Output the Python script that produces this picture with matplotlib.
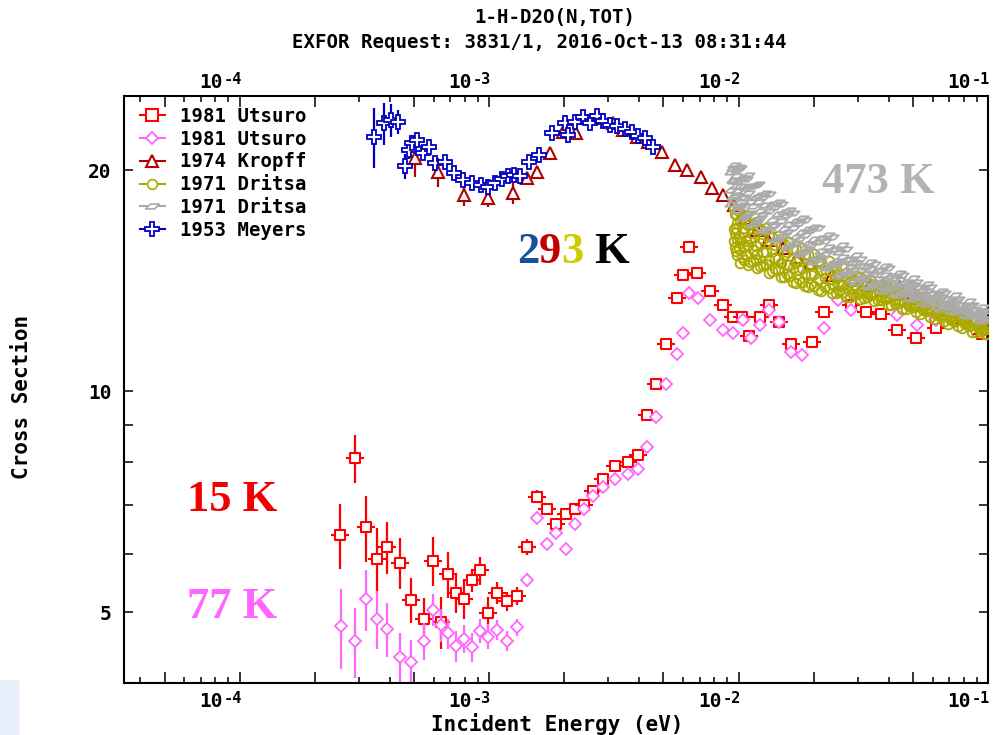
import numpy as np
import matplotlib.pyplot as plt
import matplotlib.transforms as mtransforms
from matplotlib.path import Path
from matplotlib.lines import Line2D
from matplotlib.ticker import FixedLocator, FuncFormatter, NullLocator, NullFormatter

plt.rcParams['font.family'] = 'DejaVu Sans Mono'
plt.rcParams['font.weight'] = 'bold'

# ---------------------------------------------------------------
# donnees : energie (eV), section efficace (b), incertitude
# ---------------------------------------------------------------
# 1981 Utsuro, 15 K
utsuro15_E = [2.53e-4, 2.90e-4, 3.21e-4, 3.57e-4, 3.89e-4, 4.40e-4, 4.87e-4, 5.49e-4,
              5.98e-4, 6.44e-4, 6.83e-4, 7.35e-4, 7.92e-4, 8.52e-4, 9.20e-4, 9.88e-4,
              1.08e-3, 1.18e-3, 1.29e-3, 1.42e-3, 1.55e-3, 1.70e-3, 1.86e-3, 2.03e-3,
              2.21e-3, 2.40e-3, 2.60e-3, 2.85e-3, 3.20e-3, 3.60e-3, 3.97e-3, 4.29e-3,
              4.67e-3, 5.11e-3, 5.65e-3, 5.98e-3, 6.35e-3, 6.84e-3, 7.69e-3, 8.69e-3,
              9.48e-3, 1.036e-2, 1.105e-2, 1.22e-2, 1.33e-2, 1.45e-2, 1.62e-2, 1.97e-2,
              2.20e-2, 2.83e-2, 3.24e-2, 3.73e-2, 4.33e-2, 5.15e-2, 6.19e-2, 9.43e-2]
utsuro15_sig = [6.37, 8.10, 6.52, 5.90, 6.14, 5.84, 5.20, 4.90,
                5.87, 4.85, 5.63, 5.31, 5.21, 5.53, 5.70, 4.99,
                5.31, 5.17, 5.26, 6.14, 7.18, 6.90, 6.60, 6.80,
                6.90, 7.00, 7.30, 7.60, 7.90, 8.00, 8.18, 9.27,
                10.21, 11.60, 13.40, 14.40, 15.70, 14.50, 13.70, 13.10,
                12.60, 12.60, 11.90, 12.60, 13.10, 12.40, 11.60, 11.65,
                12.80, 13.10, 12.80, 12.75, 12.10, 11.80, 12.20, 11.95]
utsuro15_err = [0.65, 0.60, 0.67, 0.60, 0.50, 0.46, 0.37, 0.32,
                0.45, 0.40, 0.40, 0.33, 0.32, 0.20, 0.25, 0.25,
                0.18, 0.15, 0.15, 0.15, 0.15, 0.12, 0.12, 0.12,
                0.12, 0.12, 0.12, 0.12, 0.12, 0.12, 0.12, 0.12,
                0.12, 0.12, 0.12, 0.12, 0.12, 0.12, 0.12, 0.12,
                0.12, 0.12, 0.12, 0.12, 0.12, 0.12, 0.12, 0.12,
                0.12, 0.12, 0.12, 0.12, 0.12, 0.12, 0.12, 0.12]

# 1981 Utsuro, 77 K
utsuro77_E = [2.54e-4, 2.90e-4, 3.21e-4, 3.57e-4, 3.89e-4, 4.40e-4, 4.87e-4, 5.49e-4,
              5.98e-4, 6.44e-4, 6.83e-4, 7.35e-4, 7.92e-4, 8.52e-4, 9.20e-4, 9.94e-4,
              1.08e-3, 1.18e-3, 1.29e-3, 1.42e-3, 1.55e-3, 1.70e-3, 1.86e-3, 2.03e-3,
              2.21e-3, 2.40e-3, 2.60e-3, 2.85e-3, 3.20e-3, 3.60e-3, 3.97e-3, 4.29e-3,
              4.67e-3, 5.12e-3, 5.65e-3, 5.98e-3, 6.35e-3, 6.90e-3, 7.69e-3, 8.65e-3,
              9.50e-3, 1.04e-2, 1.12e-2, 1.22e-2, 1.33e-2, 1.45e-2, 1.62e-2, 1.80e-2,
              2.20e-2, 2.50e-2, 2.83e-2, 4.33e-2, 5.20e-2, 6.20e-2, 7.30e-2, 9.40e-2]
utsuro77_sig = [4.78, 4.57, 5.21, 4.90, 4.74, 4.34, 4.28, 4.57,
                5.04, 4.80, 4.68, 4.49, 4.60, 4.48, 4.72, 4.63,
                4.73, 4.57, 4.77, 5.53, 6.71, 6.20, 6.40, 6.10,
                6.60, 6.90, 7.20, 7.40, 7.60, 7.70, 7.83, 8.38,
                9.22, 10.21, 11.22, 11.98, 13.59, 13.37, 12.50, 12.11,
                11.98, 12.50, 11.80, 12.30, 12.90, 12.40, 11.30, 11.20,
                12.20, 13.30, 12.90, 12.70, 12.30, 12.50, 12.40, 12.40]
utsuro77_err = [0.60, 0.50, 0.50, 0.44, 0.40, 0.35, 0.30, 0.27,
                0.25, 0.25, 0.22, 0.22, 0.20, 0.20, 0.18, 0.18,
                0.15, 0.15, 0.13, 0.12, 0.12, 0.10, 0.10, 0.10,
                0.10, 0.10, 0.10, 0.10, 0.10, 0.10, 0.10, 0.10,
                0.10, 0.10, 0.10, 0.10, 0.10, 0.10, 0.10, 0.10,
                0.10, 0.10, 0.10, 0.10, 0.10, 0.10, 0.10, 0.10,
                0.10, 0.10, 0.10, 0.10, 0.10, 0.10, 0.10, 0.10]

# 1974 Kropff
kropff_E = [5.05e-4, 6.23e-4, 7.96e-4, 9.88e-4, 1.245e-3, 1.416e-3, 1.562e-3, 1.756e-3,
            1.985e-3, 2.226e-3, 2.702e-3, 3.15e-3, 3.454e-3, 3.908e-3, 4.351e-3, 4.951e-3,
            5.566e-3, 6.20e-3, 7.055e-3, 7.811e-3, 8.693e-3, 9.6e-3, 1.062e-2, 1.186e-2,
            1.313e-2, 1.508e-2, 1.716e-2, 1.935e-2, 2.37e-2, 2.877e-2, 3.366e-2, 3.795e-2,
            4.44e-2, 5.005e-2, 6.019e-2, 6.85e-2, 7.94e-2, 9.29e-2]
kropff_sig = [20.75, 19.89, 18.49, 18.30, 18.59, 19.49, 19.89, 21.12,
              22.55, 22.44, 23.52, 23.15, 22.67, 22.20, 21.86, 21.18,
              20.32, 20.00, 19.58, 18.89, 18.49, 17.95, 17.20, 16.57,
              16.06, 15.66, 15.22, 14.94, 14.39, 14.17, 13.94, 13.94,
              13.86, 13.59, 13.18, 12.89, 12.60, 12.38]
kropff_err = [1.2, 0.9, 0.6, 0.5, 0.6, 0.2, 0.2, 0.15,
              0.15, 0.15, 0.15, 0.15, 0.15, 0.15, 0.15, 0.15,
              0.15, 0.15, 0.15, 0.15, 0.15, 0.15, 0.15, 0.15,
              0.15, 0.15, 0.15, 0.15, 0.15, 0.15, 0.15, 0.15,
              0.15, 0.15, 0.15, 0.15, 0.15, 0.15]

# 1971 Dritsa, 293 K : deux grilles d'energie, trois releves chacune
dritsa293_E = [0.0096, 0.0098, 0.0100, 0.0103, 0.0107, 0.0111, 0.0117, 0.0122,
               0.0129, 0.0136, 0.0144, 0.0152, 0.0160, 0.0170, 0.0180, 0.0190,
               0.0201, 0.0215, 0.0230, 0.0245, 0.0262, 0.0279, 0.0298, 0.0317,
               0.0338, 0.0361, 0.0385, 0.0410, 0.0438, 0.0467, 0.0499, 0.0532,
               0.0568, 0.0605, 0.0646, 0.0689, 0.0735, 0.0784, 0.0836, 0.0892,
               0.0951, 0.0990]
dritsa293_a = [17.7, 17.4, 17.6, 17.2, 17.35, 16.9, 17.0, 16.6,
               16.7, 16.2, 16.25, 15.85, 15.95, 15.6, 15.65, 15.3,
               15.35, 15.0, 15.05, 14.65, 14.7, 14.4, 14.35, 14.1,
               14.15, 13.9, 13.9, 13.7, 13.7, 13.5, 13.5, 13.3,
               13.3, 13.1, 13.1, 12.9, 12.9, 12.7, 12.7, 12.5,
               12.5, 12.4]
dritsa293_b = [16.6, 16.7, 16.2, 16.45, 16.0, 16.15, 15.75, 15.9,
               15.45, 15.6, 15.15, 15.3, 14.85, 15.0, 14.7, 14.8,
               14.45, 14.6, 14.2, 14.3, 13.95, 14.1, 13.8, 13.9,
               13.6, 13.75, 13.45, 13.55, 13.3, 13.4, 13.1, 13.2,
               12.9, 13.0, 12.7, 12.8, 12.5, 12.6, 12.3, 12.4,
               12.1, 12.15]
dritsa293_c = [16.0, 15.5, 15.6, 15.25, 15.35, 15.0, 15.1, 14.8,
               14.9, 14.55, 14.6, 14.3, 14.35, 14.05, 14.1, 13.85,
               13.9, 13.7, 13.8, 13.6, 13.65, 13.45, 13.55, 13.4,
               13.5, 13.3, 13.35, 13.1, 13.2, 12.95, 13.0, 12.75,
               12.85, 12.55, 12.6, 12.35, 12.45, 12.2, 12.25, 12.05,
               12.1, 11.95]
dritsa293_E2 = [0.0097, 0.0099, 0.01015, 0.0105, 0.0109, 0.0114, 0.0119, 0.0125,
                0.0132, 0.0140, 0.0148, 0.0156, 0.0165, 0.0175, 0.0185, 0.0195,
                0.0208, 0.0222, 0.0237, 0.0253, 0.0270, 0.0288, 0.0307, 0.0327,
                0.0349, 0.0373, 0.0397, 0.0424, 0.0452, 0.0483, 0.0515, 0.0549,
                0.0586, 0.0625, 0.0667, 0.0711, 0.0759, 0.0809, 0.0863, 0.0921,
                0.0970]
dritsa293_d = [17.4, 16.95, 17.1, 16.7, 16.85, 16.4, 16.6, 16.1,
               16.25, 15.8, 15.9, 15.45, 15.6, 15.2, 15.35, 14.9,
               15.05, 14.65, 14.8, 14.4, 14.5, 14.15, 14.3, 13.95,
               14.0, 13.75, 13.85, 13.5, 13.6, 13.3, 13.4, 13.1,
               13.2, 12.9, 13.0, 12.7, 12.8, 12.5, 12.6, 12.3,
               12.35]
dritsa293_e = [15.7, 15.3, 14.95, 15.1, 14.85, 15.05, 14.7, 14.85,
               14.5, 14.65, 14.3, 14.45, 14.1, 14.2, 13.9, 14.0,
               13.75, 13.85, 13.6, 13.7, 13.45, 13.55, 13.35, 13.45,
               13.25, 13.3, 13.1, 13.2, 12.95, 13.05, 12.8, 12.9,
               12.6, 12.7, 12.45, 12.5, 12.25, 12.35, 12.05, 12.15,
               11.95]
dritsa293_f = [16.4, 16.1, 15.9, 15.7, 15.8, 15.55, 15.35, 15.45,
               15.1, 15.2, 14.95, 14.85, 14.7, 14.6, 14.45, 14.4,
               14.2, 14.25, 14.0, 13.95, 13.85, 13.8, 13.65, 13.6,
               13.55, 13.45, 13.4, 13.3, 13.25, 13.15, 13.05, 13.0,
               12.9, 12.8, 12.75, 12.6, 12.6, 12.4, 12.45, 12.2,
               12.25]

# 1971 Dritsa, 473 K
dritsa473_E = [0.00933, 0.0096, 0.00986, 0.0101, 0.0105, 0.0109, 0.0114, 0.0120,
               0.0125, 0.0132, 0.0140, 0.0148, 0.0156, 0.0165, 0.0175, 0.0185,
               0.0195, 0.0208, 0.0222, 0.0237, 0.0253, 0.0270, 0.0288, 0.0307,
               0.0327, 0.0349, 0.0373, 0.0397, 0.0424, 0.0452, 0.0483, 0.0515,
               0.0549, 0.0586, 0.0625, 0.0667, 0.0711, 0.0759, 0.0809, 0.0863,
               0.0921, 0.0982]
dritsa473_a = [19.85, 20.3, 20.0, 20.1, 19.5, 19.7, 19.0, 19.15,
               18.4, 18.55, 17.8, 18.0, 17.35, 17.5, 16.95, 17.1,
               16.55, 16.7, 16.0, 16.2, 15.45, 15.6, 15.0, 15.15,
               14.75, 14.9, 14.6, 14.7, 14.25, 14.4, 14.0, 14.1,
               13.75, 13.85, 13.5, 13.6, 13.25, 13.35, 13.0, 13.1,
               12.8, 12.85]
dritsa473_b = [18.8, 19.3, 18.7, 19.0, 18.3, 18.6, 17.85, 18.1,
               17.4, 17.6, 16.85, 17.05, 16.45, 16.7, 16.1, 16.3,
               15.8, 15.95, 15.35, 15.55, 14.95, 15.1, 14.6, 14.8,
               14.3, 14.45, 14.1, 14.25, 13.85, 14.0, 13.65, 13.8,
               13.45, 13.55, 13.2, 13.35, 13.0, 13.1, 12.85, 12.9,
               12.65, 12.7]
dritsa473_c = [18.0, 18.2, 17.6, 17.8, 17.2, 17.4, 16.9, 17.1,
               16.55, 16.5, 16.1, 16.25, 15.7, 15.85, 15.4, 15.5,
               15.1, 15.25, 14.8, 14.9, 14.45, 14.55, 14.15, 14.25,
               13.9, 14.0, 13.75, 13.85, 13.55, 13.65, 13.4, 13.5,
               13.2, 13.3, 13.0, 13.1, 12.85, 12.95, 12.7, 12.75,
               12.5, 12.55]
dritsa473_E2 = [0.00946, 0.00973, 0.00998, 0.0103, 0.0107, 0.0111, 0.0117, 0.0122,
                0.0128, 0.0136, 0.0144, 0.0152, 0.0160, 0.0170, 0.0180, 0.0190,
                0.0201, 0.0215, 0.0229, 0.0245, 0.0261, 0.0279, 0.0297, 0.0317,
                0.0338, 0.0361, 0.0385, 0.0410, 0.0438, 0.0467, 0.0499, 0.0532,
                0.0567, 0.0605, 0.0646, 0.0689, 0.0735, 0.0784, 0.0836, 0.0892,
                0.0950]
dritsa473_d = [20.1, 19.6, 20.2, 19.5, 19.45, 19.0, 19.1, 18.5,
               18.6, 18.0, 18.1, 17.55, 17.65, 17.05, 17.2, 16.6,
               16.75, 16.15, 16.3, 15.6, 15.8, 15.15, 15.3, 14.8,
               15.0, 14.55, 14.8, 14.35, 14.5, 14.1, 14.25, 13.85,
               14.0, 13.6, 13.7, 13.35, 13.5, 13.1, 13.25, 12.9,
               13.0]
dritsa473_e = [18.4, 18.5, 17.8, 17.9, 17.3, 17.5, 16.95, 17.2,
               16.6, 16.8, 16.05, 16.3, 15.7, 15.9, 15.35, 15.55,
               15.0, 15.15, 14.7, 14.85, 14.35, 14.5, 14.05, 14.2,
               13.85, 13.95, 13.7, 13.8, 13.5, 13.6, 13.35, 13.45,
               13.15, 13.25, 12.95, 13.05, 12.8, 12.9, 12.65, 12.7,
               12.45]
dritsa473_f = [19.4, 19.0, 19.3, 18.4, 18.9, 18.1, 18.4, 17.6,
               17.9, 17.1, 17.4, 16.6, 16.9, 16.2, 16.45, 15.85,
               16.1, 15.5, 15.7, 15.05, 15.25, 14.75, 14.95, 14.45,
               14.65, 14.2, 14.4, 14.0, 14.15, 13.75, 13.95, 13.55,
               13.7, 13.35, 13.45, 13.15, 13.25, 12.95, 13.05, 12.75,
               12.8]

# 1953 Meyers
meyers_E = [3.47e-4, 3.80e-4, 4.05e-4, 4.33e-4, 4.61e-4, 4.78e-4, 4.90e-4, 5.16e-4,
            5.42e-4, 5.76e-4, 6.08e-4, 6.66e-4, 7.24e-4, 7.85e-4, 8.52e-4, 9.26e-4,
            9.94e-4, 1.057e-3, 1.124e-3, 1.188e-3, 1.26e-3, 1.331e-3, 1.45e-3, 1.591e-3,
            1.784e-3, 2.016e-3, 2.079e-3, 2.212e-3, 2.388e-3, 2.54e-3, 2.702e-3, 2.856e-3,
            3.055e-3, 3.268e-3, 3.509e-3, 3.732e-3, 3.966e-3, 4.221e-3, 4.532e-3]
meyers_sig = [22.20, 23.15, 23.40, 23.27, 20.25, 21.29, 21.75, 21.97,
              21.08, 21.48, 20.46, 20.53, 19.83, 19.38, 19.18, 19.08,
              18.98, 19.18, 19.43, 19.63, 19.69, 19.63, 20.53, 20.96,
              22.44, 23.15, 22.32, 23.27, 23.60, 23.15, 23.69, 23.35,
              23.03, 22.96, 22.72, 22.55, 22.25, 22.09, 21.52]
meyers_err = [2.1, 1.5, 1.2, 0.9, 0.8, 0.6, 0.6, 0.5,
              0.3, 0.3, 0.3, 0.3, 0.2, 0.2, 0.2, 0.2,
              0.2, 0.2, 0.2, 0.2, 0.2, 0.2, 0.2, 0.2,
              0.2, 0.2, 0.2, 0.2, 0.2, 0.2, 0.2, 0.2,
              0.2, 0.2, 0.2, 0.2, 0.2, 0.2, 0.2]

labels = ['1981 Utsuro', '1981 Utsuro', '1974 Kropff', '1971 Dritsa', '1971 Dritsa', '1953 Meyers']
decades = [1e-4, 1e-3, 1e-2, 1e-1]
decade_exp = ['-4', '-3', '-2', '-1']

# couleurs
C_RED = '#ff0000'
C_VIO = '#ff66ff'
C_KRO = '#b00000'
C_OLI = '#aaaa00'
C_GRY = '#aaaaaa'
C_BLU = '#0000c0'

# marqueurs perso : carre avec petits traits horizontaux, parallelogramme
sq_stub = Path([(-0.55, -0.55), (0.55, -0.55), (0.55, 0.55), (-0.55, 0.55), (-0.55, -0.55),
                (-1, 0), (-0.55, 0), (0.55, 0), (1, 0)],
               [Path.MOVETO, Path.LINETO, Path.LINETO, Path.LINETO, Path.CLOSEPOLY,
                Path.MOVETO, Path.LINETO, Path.MOVETO, Path.LINETO])
slant = Path([(-1, -0.35), (0.3, -0.35), (1, 0.35), (-0.3, 0.35), (-1, -0.35)],
             [Path.MOVETO, Path.LINETO, Path.LINETO, Path.LINETO, Path.CLOSEPOLY])

W, H = 994, 735
fig = plt.figure(figsize=(W / 100, H / 100), dpi=100)
ax = fig.add_axes([124 / W, 1 - 683.3 / H, (988 - 124) / W, (683.3 - 95.7) / H])
ax.set_xscale('log')
ax.set_yscale('log')

ebkw = dict(ls='none', mfc='white', elinewidth=1.6, capsize=0)
ax.errorbar(utsuro15_E, utsuro15_sig, yerr=utsuro15_err, marker=sq_stub, ms=13.5, mew=1.5,
            color=C_RED, mec=C_RED, zorder=2, **ebkw)
ax.errorbar(utsuro77_E, utsuro77_sig, yerr=utsuro77_err, marker='D', ms=6.5, mew=1.3,
            color=C_VIO, mec=C_VIO, zorder=2.2, **ebkw)
ax.errorbar(kropff_E, kropff_sig, yerr=kropff_err, marker='^', ms=8, mew=1.5,
            color=C_KRO, mec=C_KRO, zorder=2.4, **ebkw)

E293 = np.concatenate([dritsa293_E] * 3 + [dritsa293_E2] * 3)
S293 = np.concatenate([dritsa293_a, dritsa293_b, dritsa293_c,
                       dritsa293_d, dritsa293_e, dritsa293_f])
ax.plot(E293, S293, ls='none', marker='o', ms=7, mew=1.3, mfc='none', mec=C_OLI, zorder=3)
E473 = np.concatenate([dritsa473_E] * 3 + [dritsa473_E2] * 3)
S473 = np.concatenate([dritsa473_a, dritsa473_b, dritsa473_c,
                       dritsa473_d, dritsa473_e, dritsa473_f])
ax.plot(E473, S473, ls='none', marker=slant, ms=9, mew=1.3, mfc='none', mec=C_GRY, zorder=3.2)

ax.errorbar(meyers_E, meyers_sig, yerr=meyers_err, marker='P', ms=10, mew=1.3,
            color=C_BLU, mec=C_BLU, zorder=3.5, **ebkw)

ax.set_xlim(3.44e-5, 0.1)
ax.set_ylim(4.0, 25.25)

# graduations : longues a 1, 2, 5 ; courtes ailleurs
xmaj = [m * 10.0 ** k for k in range(-5, 0) for m in (1, 2, 5)]
xmin = [m * 10.0 ** k for k in range(-5, 0) for m in (3, 4, 6, 7, 8, 9)]
ax.xaxis.set_major_locator(FixedLocator(xmaj))
ax.xaxis.set_minor_locator(FixedLocator(xmin))
ax.xaxis.set_major_formatter(NullFormatter())
ax.xaxis.set_minor_formatter(NullFormatter())
ax.yaxis.set_major_locator(FixedLocator([5, 6, 7, 8, 9, 10, 20]))
ax.yaxis.set_minor_locator(NullLocator())
ax.yaxis.set_major_formatter(FuncFormatter(lambda v, p: '%d' % v if v in (5, 10, 20) else ''))

ax.tick_params(axis='x', which='major', direction='in', length=8, width=1.1, top=True, bottom=True)
ax.tick_params(axis='x', which='minor', direction='in', length=4.2, width=1.1, top=True, bottom=True)
ax.tick_params(axis='y', which='major', direction='in', length=6.5, width=1.1,
               left=True, right=True, labelsize=14, pad=9)
for s in ax.spines.values():
    s.set_linewidth(1.5)

# etiquettes des decades (10 puis exposant), en haut et en bas
blend = mtransforms.blended_transform_factory(ax.transData, fig.transFigure)
tr_base = blend + mtransforms.ScaledTranslation(-17 / 100, 0, fig.dpi_scale_trans)
tr_sup = blend + mtransforms.ScaledTranslation(2 / 100, 0, fig.dpi_scale_trans)
for v, s in zip(decades, decade_exp):
    for yb, ys in ((707, 703), (88, 84)):
        ax.text(v, 1 - yb / H, '10', transform=tr_base, ha='right', va='baseline',
                fontsize=14, clip_on=False)
        ax.text(v, 1 - ys / H, s, transform=tr_sup, ha='right', va='baseline',
                fontsize=11, clip_on=False)

# legende
handles = [Line2D([0], [0], color=C_RED, marker='s', ms=8, mfc='white', mew=1.5, lw=1.5),
           Line2D([0], [0], color=C_VIO, marker='D', ms=6.5, mfc='white', mew=1.3, lw=1.5),
           Line2D([0], [0], color=C_KRO, marker='^', ms=8, mfc='white', mew=1.5, lw=1.5),
           Line2D([0], [0], color=C_OLI, marker='o', ms=7, mfc='white', mew=1.2, lw=1.5),
           Line2D([0], [0], color=C_GRY, marker=slant, ms=10, mfc='white', mew=1.2, lw=1.5),
           Line2D([0], [0], color=C_BLU, marker='P', ms=10, mfc='white', mew=1.3, lw=1.5)]
ax.legend(handles, labels, loc='upper left', bbox_to_anchor=(0.0185, 0.981), frameon=False,
          handlelength=1.3, handletextpad=0.8, labelspacing=0.2, borderaxespad=0, borderpad=0,
          prop={'family': 'DejaVu Sans Mono', 'weight': 'bold', 'size': 13.7})

# titres et axes
fig.text(555 / W, 1 - 17 / H, '1-H-D2O(N,TOT)', ha='center', va='center', fontsize=13.7)
fig.text(539 / W, 1 - 42.5 / H, 'EXFOR Request: 3831/1, 2016-Oct-13 08:31:44',
         ha='center', va='center', fontsize=13.7)
fig.text(557 / W, 1 - 724 / H, 'Incident Energy (eV)', ha='center', va='center', fontsize=15)
fig.text(22 / W, 1 - 397 / H, 'Cross Section', ha='center', va='center', rotation=90, fontsize=15)

# etiquettes de temperature
big = dict(family='Liberation Serif', fontweight='bold', fontsize=32)
fig.text(878 / W, 1 - 182 / H, '473 K', color='#b3b3b3', ha='center', va='center', **big)
fig.text(232 / W, 1 - 500 / H, '15 K', color='#f00000', ha='center', va='center', **big)
fig.text(232 / W, 1 - 607 / H, '77 K', color='#ff66ff', ha='center', va='center', **big)
prev = fig.text(517 / W, 1 - 252 / H, '2', color='#1a4f9c', ha='left', va='center', **big)
for ch, c in [('9', '#c00000'), ('3', '#cccc00'), (' K', 'black')]:
    prev = ax.annotate(ch, xy=(1, 0), xycoords=prev, va='bottom', ha='left', color=c, **big)

# coin bleu pale en bas a gauche
fig.patches.append(plt.Rectangle((0, 0), 18 / W, 55 / H, transform=fig.transFigure,
                                 color='#e8f0fb', zorder=-1))

fig.savefig('out.png', dpi=100)
